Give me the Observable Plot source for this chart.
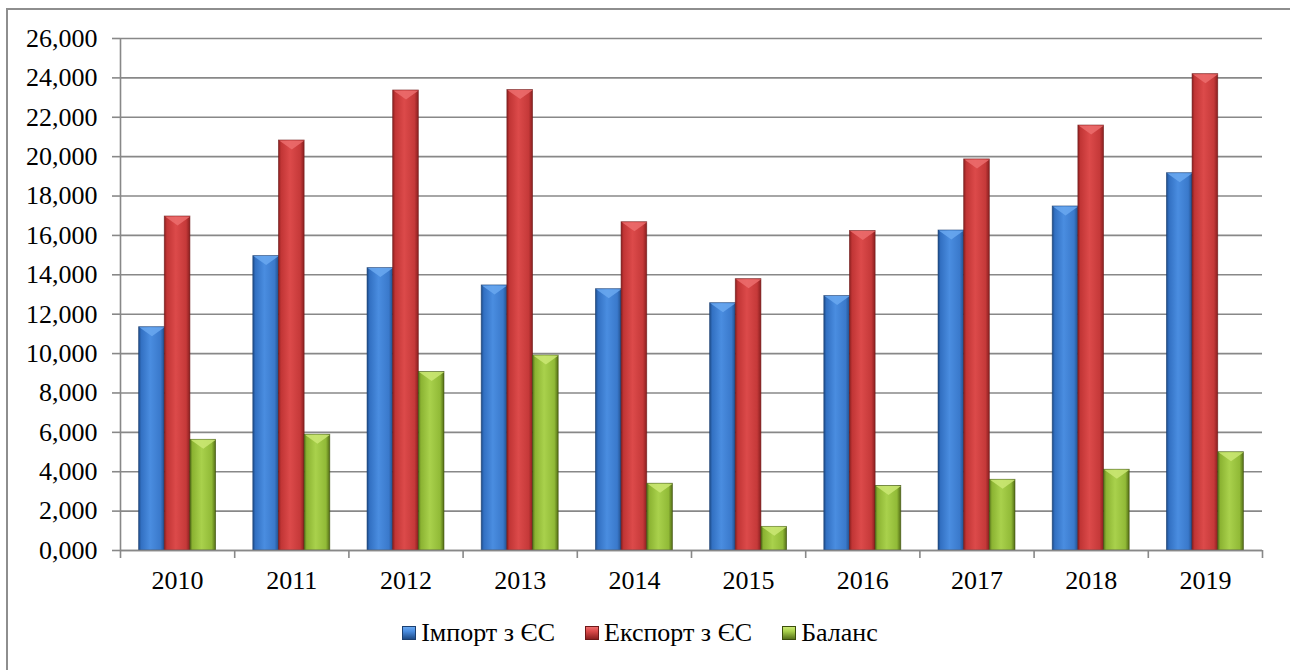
<!DOCTYPE html>
<html>
<head>
<meta charset="utf-8">
<script src="https://cdn.jsdelivr.net/npm/d3@7"></script>
<script src="https://cdn.jsdelivr.net/npm/@observablehq/plot@0.6"></script>
<style>
  body { margin: 0; font-family: serif; font-size: 26px; }
  #frame { position: absolute; left: 6px; top: 8px; width: 1310px; height: 700px;
           border: 2px solid #8e8e8e; box-sizing: border-box; }
  #chart { position: absolute; left: 0; top: 0; }
  #legend { position: absolute; left: 0; top: 618px; width: 1280px; display: flex;
            justify-content: center; align-items: center; color: #000; font-family: serif; }
  .item { display: flex; align-items: center; margin: 0 15px; }
  .sw { width: 14px; height: 14px; margin-right: 5px; box-sizing: border-box; }
</style>
</head>
<body>
<div id="frame"></div>
<div id="chart"></div>
<div id="legend"></div>
<script>
const years = [2010, 2011, 2012, 2013, 2014, 2015, 2016, 2017, 2018, 2019];
const importEU = [11.34, 14.95, 14.34, 13.46, 13.27, 12.56, 12.92, 16.25, 17.47, 19.16];
const exportEU = [16.96, 20.82, 23.36, 23.38, 16.67, 13.78, 16.22, 19.86, 21.58, 24.19];
const balance  = [5.62, 5.88, 9.06, 9.90, 3.39, 1.20, 3.28, 3.59, 4.10, 4.99];
const seriesNames = ["Імпорт з ЄС", "Експорт з ЄС", "Баланс"];
const yTicks = d3.range(0, 26.001, 2);

const palette = [
  {stops: ["#1d4a86", "#3270c2", "#4a8de0", "#3a79cb", "#22508e"], cap: "#6aa8f0", edge: "#1b3f70"},
  {stops: ["#8a1f1f", "#c13535", "#dc4a4a", "#c53939", "#8a1f1f"], cap: "#ec6d6d", edge: "#6e1818"},
  {stops: ["#56711a", "#8bb332", "#a9d14c", "#91ba37", "#536d15"], cap: "#cbe874", edge: "#3b4d0c"}
];

const groupPad = 0.163;
const barW = (1 - 2 * groupPad) / 3;
const rows = [];
[importEU, exportEU, balance].forEach((vals, k) => {
  vals.forEach((v, i) => {
    rows.push({i, k, year: years[i], series: seriesNames[k], value: v,
               x1: i + groupPad + k * barW, x2: i + groupPad + (k + 1) * barW});
  });
});

const fmt = d3.formatLocale({decimal: ",", thousands: " ", grouping: [3], currency: ["", ""]}).format(".3f");

const capSymbol = {
  draw(ctx) {
    ctx.moveTo(-12.6, 0);
    ctx.lineTo(12.6, 0);
    ctx.lineTo(0, 9);
    ctx.closePath();
  }
};

const defsMark = () => {
  const defs = d3.create("svg:defs");
  palette.forEach((p, k) => {
    const g = defs.append("linearGradient").attr("id", "g" + k)
      .attr("x1", 0).attr("x2", 1).attr("y1", 0).attr("y2", 0);
    const offs = [0, 0.1, 0.45, 0.85, 1];
    p.stops.forEach((c, j) => g.append("stop").attr("offset", offs[j]).attr("stop-color", c));
  });
  return defs.node();
};

const grid = "#888888";
const FONT = "serif";

const marks = [
  defsMark,
  Plot.ruleY(yTicks, {stroke: grid, strokeWidth: 1.6}),
  Plot.ruleX([0], {y1: 0, y2: 26, stroke: grid, strokeWidth: 1.6}),
  Plot.axisY({ticks: yTicks, tickFormat: fmt, tickSize: 8, tickPadding: 15, stroke: grid, strokeWidth: 1.6,
              label: null, fontFamily: FONT, fontSize: 26, fill: "#000"}),
  Plot.axisX({ticks: d3.range(0, 11), tickFormat: () => "", tickSize: 8, stroke: grid, strokeWidth: 1.6, label: null}),
  Plot.axisX({ticks: years.map((_, i) => i + 0.5), tickFormat: d => String(years[Math.floor(d)]), tickSize: 0,
              tickPadding: 20, label: null, fontFamily: FONT, fontSize: 26, fill: "#000"})
];
[0, 1, 2].forEach(k => {
  const data = rows.filter(d => d.k === k);
  marks.push(Plot.rectY(data, {x1: "x1", x2: "x2", y1: 0, y2: "value",
    fill: `url(#g${k})`, stroke: palette[k].edge, strokeWidth: 0.8, strokeOpacity: 0.7}));
  marks.push(Plot.dot(data, {x: d => (d.x1 + d.x2) / 2, y: "value", symbol: capSymbol, r: 1,
    fill: palette[k].cap, fillOpacity: 0.85, stroke: "none"}));
});
marks.push(Plot.ruleY([0], {stroke: grid, strokeWidth: 1.6}));

const chart = Plot.plot({
  width: 1290,
  height: 600,
  marginLeft: 120,
  marginRight: 28,
  marginTop: 38,
  marginBottom: 50,
  style: {fontFamily: FONT, fontSize: "26px", color: "#000", background: "transparent"},
  x: {domain: [0, 10], axis: null, label: null},
  y: {domain: [0, 26], axis: null, label: null},
  marks
});
document.getElementById("chart").appendChild(chart);

const legend = d3.select("#legend");
seriesNames.forEach((name, k) => {
  const it = legend.append("div").attr("class", "item");
  const s = palette[k].stops;
  it.append("div").attr("class", "sw")
    .style("background", `linear-gradient(to bottom, ${palette[k].cap} 0%, ${s[2]} 35%, ${s[0]} 100%)`)
    .style("border", `1px solid ${palette[k].edge}`);
  it.append("span").text(name);
});
</script>
</body>
</html>
